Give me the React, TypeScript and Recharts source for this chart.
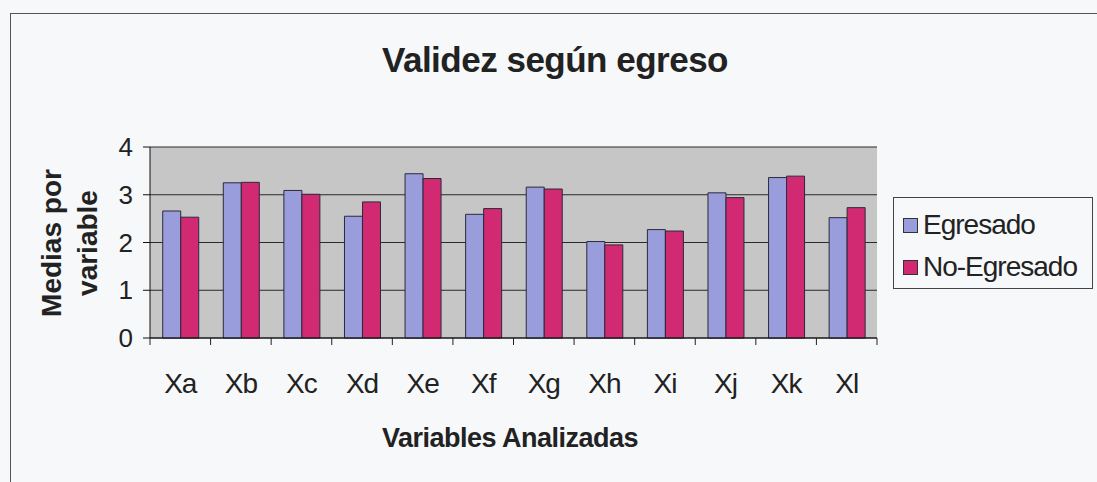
import { BarChart, Bar, XAxis, YAxis, CartesianGrid } from 'recharts';

const categories = ['Xa', 'Xb', 'Xc', 'Xd', 'Xe', 'Xf', 'Xg', 'Xh', 'Xi', 'Xj', 'Xk', 'Xl'];
const egresado = [2.66, 3.25, 3.09, 2.55, 3.44, 2.59, 3.16, 2.02, 2.27, 3.04, 3.36, 2.52];
const noEgresado = [2.53, 3.26, 3.01, 2.85, 3.34, 2.71, 3.12, 1.95, 2.24, 2.94, 3.39, 2.73];
const yTicks = [0, 1, 2, 3, 4];

const series = [
  { key: 'Egresado', color: '#9a9ddb' },
  { key: 'No-Egresado', color: '#d22a72' },
];

const data = categories.map((name, i) => ({
  name,
  Egresado: egresado[i],
  'No-Egresado': noEgresado[i],
}));

const W = 1097;
const H = 482;
const PLOT_LEFT = 150;
const PLOT_RIGHT = 877;
const PLOT_TOP = 147;
const PLOT_BOTTOM = 338;
const BAND = (PLOT_RIGHT - PLOT_LEFT) / categories.length;
const FONT = '"Liberation Sans", Arial, sans-serif';

const XTick = (props: any) => {
  const { x, payload } = props;
  const isLast = payload.value === categories[categories.length - 1];
  return (
    <g>
      <line x1={x - BAND / 2} y1={PLOT_BOTTOM} x2={x - BAND / 2} y2={PLOT_BOTTOM + 7} stroke="#222" />
      {isLast && (
        <line x1={x + BAND / 2} y1={PLOT_BOTTOM} x2={x + BAND / 2} y2={PLOT_BOTTOM + 7} stroke="#222" />
      )}
      <text x={x} y={383} dy="0.35em" textAnchor="middle" fontSize={28} fill="#222" fontFamily={FONT} letterSpacing={-1}>
        {payload.value}
      </text>
    </g>
  );
};

export default function App() {
  return (
    <div style={{ position: 'absolute', left: 0, top: 0, width: W, height: H, background: '#f6f8fa', fontFamily: FONT, overflow: 'hidden' }}>
      {/* outer chart border */}
      <div style={{ position: 'absolute', left: 10, top: 13, width: W, height: H, border: '1px solid #555' }} />

      <div style={{ position: 'absolute', left: 0, width: 1110, top: 40, textAlign: 'center', fontSize: 35, fontWeight: 'bold', color: '#222', letterSpacing: -0.5 }}>
        Validez según egreso
      </div>

      <BarChart
        width={W}
        height={H}
        data={data}
        margin={{ top: PLOT_TOP, right: W - PLOT_RIGHT, left: PLOT_LEFT - 60, bottom: H - PLOT_BOTTOM - 60 }}
        barCategoryGap="21%"
        barGap={0}
        style={{ position: 'absolute', left: 0, top: 0 }}
      >
        <CartesianGrid fill="#c6c6c6" stroke="#2a2a2a" vertical={false} />
        <XAxis
          dataKey="name"
          height={60}
          axisLine={{ stroke: '#111' }}
          tickLine={false}
          interval={0}
          tick={<XTick />}
        />
        <YAxis
          width={60}
          domain={[0, 4]}
          ticks={yTicks}
          axisLine={{ stroke: '#111' }}
          tickLine={{ stroke: '#111' }}
          tickSize={7}
          tickMargin={10}
          tick={{ fontSize: 26, fill: '#222', fontFamily: FONT }}
        />
        {series.map((s) => (
          <Bar key={s.key} dataKey={s.key} fill={s.color} stroke="#2a2a3a" strokeWidth={1} isAnimationActive={false} />
        ))}
      </BarChart>

      {/* y axis title */}
      <div
        style={{
          position: 'absolute',
          left: 70,
          top: 243,
          transform: 'translate(-50%, -50%) rotate(-90deg)',
          fontSize: 28,
          fontWeight: 'bold',
          color: '#222',
          textAlign: 'center',
          lineHeight: '36px',
          whiteSpace: 'nowrap',
        }}
      >
        Medias por
        <br />
        variable
      </div>

      {/* x axis title */}
      <div style={{ position: 'absolute', left: 510, top: 438, transform: 'translate(-50%, -50%)', fontSize: 27, fontWeight: 'bold', color: '#222', letterSpacing: -0.5, whiteSpace: 'nowrap' }}>
        Variables Analizadas
      </div>

      {/* legend */}
      <div style={{ position: 'absolute', left: 893, top: 197, width: 200, height: 92, border: '1px solid #444', boxSizing: 'border-box', padding: '6px 0 0 9px' }}>
        {series.map((s) => (
          <div key={s.key} style={{ display: 'flex', alignItems: 'center', height: 42, fontSize: 28, color: '#222', letterSpacing: -1, whiteSpace: 'nowrap' }}>
            <span style={{ display: 'inline-block', width: 13, height: 13, background: s.color, border: '1px solid #333', marginRight: 5 }} />
            {s.key}
          </div>
        ))}
      </div>
    </div>
  );
}
